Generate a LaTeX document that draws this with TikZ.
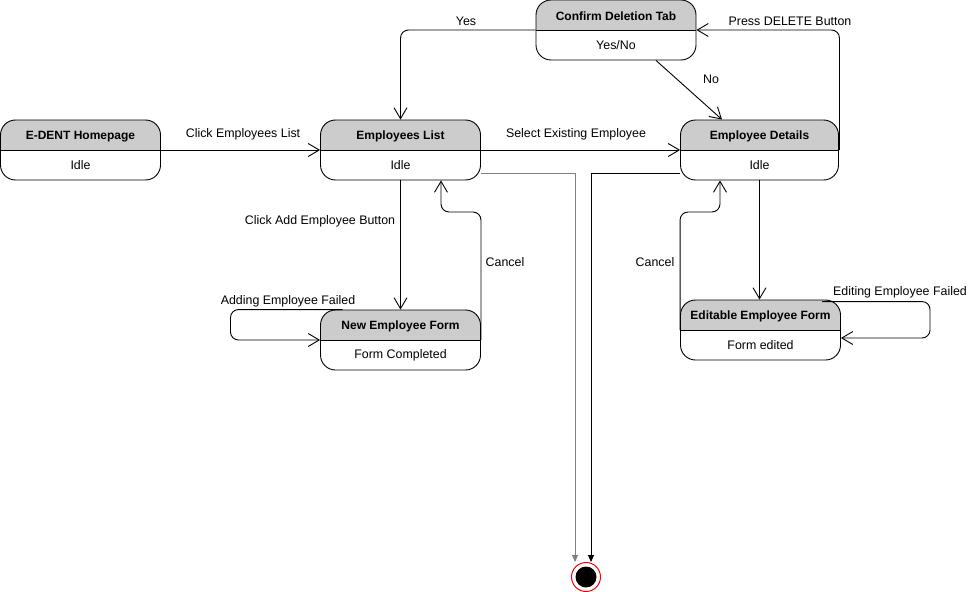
\documentclass[tikz,border=0pt]{standalone}
\usepackage{fontspec}
\setmainfont{Liberation Sans}
\usetikzlibrary{arrows.meta,calc}
\definecolor{hdr}{RGB}{204,204,204}
\definecolor{gline}{RGB}{128,128,128}
\tikzset{
  statebox/.style={draw, line width=0.9pt, rounded corners=15pt, minimum width=#1, minimum height=60pt, inner sep=0pt,
    path picture={\fill[hdr, sharp corners] (path picture bounding box.north west) rectangle (path picture bounding box.east);
      \draw[line width=0.9pt, sharp corners] (path picture bounding box.west) -- (path picture bounding box.east);}},
  statebox/.default=160pt,
  ttl/.style={font=\fontsize{12}{14}\selectfont\bfseries, inner sep=0pt},
  bdy/.style={font=\fontsize{12.4}{14}\selectfont, inner sep=0pt},
  lbl/.style={font=\fontsize{12.4}{14}\selectfont, inner sep=0pt, yshift=-1.5pt},
  tr/.style={draw, line width=0.9pt, rounded corners=8pt, -{Straight Barb[length=11pt,width=13pt,line width=0.9pt]}},
  fin/.style={draw, line width=0.9pt, -{Triangle[length=7pt,width=6pt]}}
}
\begin{document}
\begin{tikzpicture}[x=1pt,y=-1pt]
\useasboundingbox (0,0) rectangle (976,591);
% states
\node[statebox] (home) at (80.5,150) {};
\node[ttl] (home-t) at ([yshift=13.5pt]home.center) {E-DENT Homepage};
\node[bdy] (home-b) at ([yshift=-15pt]home.center) {Idle};

\node[statebox] (el) at (400.5,150) {};
\node[ttl] (el-t) at ([yshift=13.5pt]el.center) {Employees List};
\node[bdy] (el-b) at ([yshift=-15pt]el.center) {Idle};

\node[statebox=158pt] (ed) at (759.5,150) {};
\node[ttl] (ed-t) at ([yshift=13.5pt]ed.center) {Employee Details};
\node[bdy] (ed-b) at ([yshift=-15pt]ed.center) {Idle};

\node[statebox] (cd) at (616,30) {};
\node[ttl] (cd-t) at ([yshift=13.5pt]cd.center) {Confirm Deletion Tab};
\node[bdy] (cd-b) at ([yshift=-15pt]cd.center) {Yes/No};

\node[statebox] (nef) at (400.5,340) {};
\node[ttl] (nef-t) at ([yshift=13.5pt]nef.center) {New Employee Form};
\node[bdy] (nef-b) at ([yshift=-15pt]nef.center) {Form Completed};

\node[statebox] (eef) at (760.5,330) {};
\node[ttl] (eef-t) at ([yshift=13.5pt]eef.center) {Editable Employee Form};
\node[bdy] (eef-b) at ([yshift=-15pt]eef.center) {Form edited};

% final state
\node[circle, draw=red, line width=1pt, fill=white, minimum size=29pt, inner sep=0pt] (end) at (586,577) {};
\node[circle, fill=black, minimum size=21pt, inner sep=0pt] (end-in) at (end.center) {};

% transitions
\draw[tr] (home.east) -- (el.west);
\node[lbl] (l1) at (243,133) {Click Employees List};

\draw[tr] (el.east) -- (ed.west);
\node[lbl] (l2) at (576,133) {Select Existing Employee};

\draw[tr] (cd.west) -| (el.north);
\node[lbl] (l3) at (466,20) {Yes};

\draw[tr] ([xshift=40pt]cd.south) -- ([xshift=-37.5pt]ed.north);
\node[lbl] (l4) at (711,78) {No};

\draw[tr] ([xshift=0.5pt]ed.east) |- (cd.east);
\node[lbl] (l5) at (790,20) {Press DELETE Button};

\draw[tr] (el.south) -- (nef.north);
\node[lbl] (l6) at (320,220) {Click Add Employee Button};

\draw[tr] (nef.east) -- ++(0,-128) -| ([xshift=40.5pt]el.south);
\node[lbl] (l7) at (505,261) {Cancel};

\draw[tr] ([xshift=-58pt]nef.north) -- ++(-112,0) |- (nef.west);
\node[lbl] (l8) at (288,300) {Adding Employee Failed};

\draw[tr] (ed.south) -- (ed.south |- eef.north);

\draw[tr] (eef.west) -- ++(0,-118) -| ([xshift=-39.5pt]ed.south);
\node[lbl] (l9) at (655,261) {Cancel};

\draw[tr] ([xshift=61.5pt,yshift=-2pt]eef.north) -- ++(108,0) |- ([yshift=-8pt]eef.east);
\node[lbl] (l10) at (900,291) {Editing Employee Failed};

\draw[fin, gline] ([yshift=-23pt]el.east) -| ([xshift=-11pt]end.north);
\draw[fin] ([yshift=-23pt]ed.west) -| ([xshift=5pt]end.north);
\end{tikzpicture}
\end{document}
